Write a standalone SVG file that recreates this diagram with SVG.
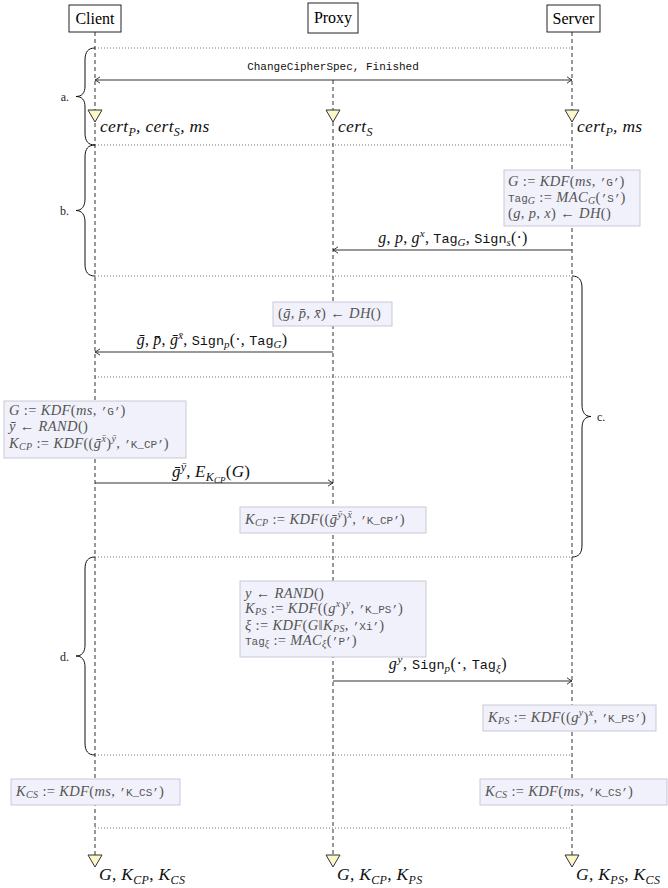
<svg xmlns="http://www.w3.org/2000/svg" width="668" height="888" viewBox="0 0 668 888">
<defs>
<marker id="ah" viewBox="-6 -4 7 8" markerWidth="7" markerHeight="8" refX="0" refY="0" orient="auto-start-reverse" markerUnits="userSpaceOnUse">
<path d="M-5,-3.2 Q-1.5,-0.6 0,0 Q-1.5,0.6 -5,3.2" fill="none" stroke="#222" stroke-width="0.9"/>
</marker>
</defs>
<style>
.hdbox{fill:#fff;stroke:#222;stroke-width:1}
.hd{font-family:"Liberation Serif",serif;font-size:16px;text-anchor:middle;fill:#000}
.life{stroke:#333;stroke-width:1;stroke-dasharray:4 3;fill:none}
.sep{stroke:#666;stroke-width:0.9;stroke-dasharray:1 2;fill:none}
.msg{stroke:#333;stroke-width:1.1;fill:none}
.brace{stroke:#111;stroke-width:1;fill:none}
.tri{fill:#fdf6c9;stroke:#333;stroke-width:1}
.box{fill:#f1f1fb;stroke:#c9c9d6;stroke-width:1}
.m{font-family:"Liberation Serif",serif;font-style:italic}
.u{font-style:normal}
.tt{font-family:"Liberation Mono",monospace;font-style:normal}
.bx{font-size:14.5px;fill:#555;letter-spacing:0.35px}
.bx .tt{font-size:11px;letter-spacing:0}
.bx .s{font-size:10px}
.lb{font-size:16px;fill:#111;letter-spacing:0.2px}
.lb .tt{font-size:13.5px;letter-spacing:0}
.lb .s{font-size:11px}
.big{font-size:17px}
.big .s{font-size:12px}
.big .ss{font-size:9px}
.st{font-size:17.5px;fill:#111;letter-spacing:0.3px}
.st .s{font-size:12px}
.s{font-size:10px}
.ss{font-size:8px}
.lab{font-family:"Liberation Serif",serif;font-size:12px;fill:#222}
.cc{font-family:"Liberation Mono",monospace;font-size:11px;text-anchor:middle;fill:#111}
</style>
<rect width="668" height="888" fill="#fff"/>

<g id="lifelines">
<line class="life" x1="95" y1="32" x2="95" y2="855"/>
<line class="life" x1="333" y1="80" x2="333" y2="855"/>
<line class="life" x1="572" y1="32" x2="572" y2="855"/>
</g>

<g id="separators">
<line class="sep" x1="95" y1="48" x2="572" y2="48"/>
<line class="sep" x1="95" y1="145" x2="572" y2="145"/>
<line class="sep" x1="95" y1="276" x2="572" y2="276"/>
<line class="sep" x1="95" y1="377" x2="572" y2="377"/>
<line class="sep" x1="95" y1="557" x2="572" y2="557"/>
<line class="sep" x1="95" y1="755" x2="572" y2="755"/>
<line class="sep" x1="95" y1="828" x2="572" y2="828"/>
</g>

<g id="client"><rect class="hdbox" x="69" y="5" width="52" height="27"/><text class="hd" x="95" y="24">Client</text></g>
<g id="proxy"><rect class="hdbox" x="308" y="3" width="50" height="30"/><text class="hd" x="333" y="23">Proxy</text></g>
<g id="server"><rect class="hdbox" x="547" y="5" width="53" height="27"/><text class="hd" x="573.5" y="24">Server</text></g>

<g id="braces">
<path class="brace" d="M95,48 C88,48 85,52 85,60 L85,86 C85,93 82,96.5 76,96.5 C82,96.5 85,100 85,107 L85,133 C85,141 88,145 95,145"/>
<text class="lab" x="69" y="101" text-anchor="end">a.</text>
<path class="brace" d="M95,145 C88,145 85,149 85,157 L85,199 C85,206 82,210.5 76,210.5 C82,210.5 85,215 85,222 L85,264 C85,272 88,276 95,276"/>
<text class="lab" x="69" y="215" text-anchor="end">b.</text>
<path class="brace" d="M572,276 C579,276 582,280 582,288 L582,405 C582,412 585,416.5 591,416.5 C585,416.5 582,421 582,428 L582,545 C582,553 579,557 572,557"/>
<text class="lab" x="597" y="421">c.</text>
<path class="brace" d="M95,557 C88,557 85,561 85,569 L85,645 C85,652 82,656 76,656 C82,656 85,660 85,667 L85,743 C85,751 88,755 95,755"/>
<text class="lab" x="69" y="661" text-anchor="end">d.</text>
</g>

<g id="connectors">
<line class="msg" x1="95" y1="80" x2="572" y2="80" marker-start="url(#ah)" marker-end="url(#ah)"/>
<line class="msg" x1="572" y1="250" x2="333" y2="250" marker-end="url(#ah)"/>
<line class="msg" x1="333" y1="352" x2="95" y2="352" marker-end="url(#ah)"/>
<line class="msg" x1="95" y1="483" x2="333" y2="483" marker-end="url(#ah)"/>
<line class="msg" x1="333" y1="681" x2="572" y2="681" marker-end="url(#ah)"/>
<text class="cc" x="333" y="70">ChangeCipherSpec, Finished</text>
<text class="m lb" x="453" y="243" text-anchor="middle">g<tspan class="u">, </tspan>p<tspan class="u">, </tspan>g<tspan class="s" dy="-6">x</tspan><tspan class="u" dy="6">, </tspan><tspan class="tt">Tag</tspan><tspan class="s" dy="3">G</tspan><tspan class="u" dy="-3">, </tspan><tspan class="tt">Sign</tspan><tspan class="s" dy="3">s</tspan><tspan class="u" dy="-3">(·)</tspan></text>
<text class="m lb" x="212" y="345" text-anchor="middle">ḡ<tspan class="u">, </tspan>p̄<tspan class="u">, </tspan>ḡ<tspan class="s" dy="-6">x̄</tspan><tspan class="u" dy="6">, </tspan><tspan class="tt">Sign</tspan><tspan class="s" dy="3">p</tspan><tspan class="u" dy="-3">(·, </tspan><tspan class="tt">Tag</tspan><tspan class="s" dy="3">G</tspan><tspan class="u" dy="-3">)</tspan></text>
<text class="m lb big" x="211" y="477" text-anchor="middle">ḡ<tspan class="s" dy="-6">ȳ</tspan><tspan class="u" dy="6">, </tspan>E<tspan class="s" dy="4">K</tspan><tspan class="ss" dy="2">CP</tspan><tspan class="u" dy="-6">(</tspan>G<tspan class="u">)</tspan></text>
<text class="m lb" x="448" y="669" text-anchor="middle" style="letter-spacing:0.6px">g<tspan class="s" dy="-6">y</tspan><tspan class="u" dy="6">, </tspan><tspan class="tt">Sign</tspan><tspan class="s" dy="3">p</tspan><tspan class="u" dy="-3">(·, </tspan><tspan class="tt">Tag</tspan><tspan class="s" dy="3">ξ</tspan><tspan class="u" dy="-3">)</tspan></text>
</g>

<g id="state-a">
<polygon class="tri" points="88,110 102,110 95,122"/>
<polygon class="tri" points="326,110 340,110 333,122"/>
<polygon class="tri" points="565,110 579,110 572,122"/>
<text class="m st" x="100" y="132">cert<tspan class="s" dy="3.5">P</tspan><tspan dy="-3.5">, cert</tspan><tspan class="s" dy="3.5">S</tspan><tspan dy="-3.5">, ms</tspan></text>
<text class="m st" x="338" y="132">cert<tspan class="s" dy="3.5">S</tspan></text>
<text class="m st" x="577" y="132">cert<tspan class="s" dy="3.5">P</tspan><tspan dy="-3.5">, ms</tspan></text>
</g>

<g id="box-server-b">
<rect class="box" x="504" y="170" width="136" height="56"/>
<text class="m bx" x="508" y="186">G<tspan class="u"> := </tspan>KDF<tspan class="u">(</tspan>ms<tspan class="u">, </tspan><tspan class="tt">’G’</tspan><tspan class="u">)</tspan></text>
<text class="m bx" x="508" y="202"><tspan class="tt">Tag</tspan><tspan class="s" dy="2">G</tspan><tspan class="u" dy="-2"> := </tspan>MAC<tspan class="s" dy="2">G</tspan><tspan class="u" dy="-2">(</tspan><tspan class="tt">’S’</tspan><tspan class="u">)</tspan></text>
<text class="m bx" x="508" y="218"><tspan class="u">(</tspan>g<tspan class="u">, </tspan>p<tspan class="u">, </tspan>x<tspan class="u">) ← </tspan>DH<tspan class="u">()</tspan></text>
</g>

<g id="box-proxy-dh">
<rect class="box" x="273" y="302" width="119" height="24"/>
<text class="m bx" x="278" y="318"><tspan class="u">(</tspan>ḡ<tspan class="u">, </tspan>p̄<tspan class="u">, </tspan>x̄<tspan class="u">) ← </tspan>DH<tspan class="u">()</tspan></text>
</g>

<g id="box-client-c">
<rect class="box" x="4" y="401" width="182" height="57"/>
<text class="m bx" x="9" y="415">G<tspan class="u"> := </tspan>KDF<tspan class="u">(</tspan>ms<tspan class="u">, </tspan><tspan class="tt">’G’</tspan><tspan class="u">)</tspan></text>
<text class="m bx" x="9" y="431">ȳ<tspan class="u"> ← </tspan>RAND<tspan class="u">()</tspan></text>
<text class="m bx" x="9" y="448">K<tspan class="s" dy="2">CP</tspan><tspan class="u" dy="-2"> := </tspan>KDF<tspan class="u">((</tspan>ḡ<tspan class="s" dy="-6">x̄</tspan><tspan class="u" dy="6">)</tspan><tspan class="s" dy="-6">ȳ</tspan><tspan class="u" dy="6">, </tspan><tspan class="tt">’K_CP’</tspan><tspan class="u">)</tspan></text>
</g>

<g id="box-proxy-kcp">
<rect class="box" x="240" y="507" width="186" height="26"/>
<text class="m bx" x="245" y="524">K<tspan class="s" dy="2">CP</tspan><tspan class="u" dy="-2"> := </tspan>KDF<tspan class="u">((</tspan>ḡ<tspan class="s" dy="-6">ȳ</tspan><tspan class="u" dy="6">)</tspan><tspan class="s" dy="-6">x̄</tspan><tspan class="u" dy="6">, </tspan><tspan class="tt">’K_CP’</tspan><tspan class="u">)</tspan></text>
</g>

<g id="box-proxy-d">
<rect class="box" x="240" y="581" width="186" height="76"/>
<text class="m bx" x="245" y="597.5">y<tspan class="u"> ← </tspan>RAND<tspan class="u">()</tspan></text>
<text class="m bx" x="245" y="613">K<tspan class="s" dy="2">PS</tspan><tspan class="u" dy="-2"> := </tspan>KDF<tspan class="u">((</tspan>g<tspan class="s" dy="-6">x</tspan><tspan class="u" dy="6">)</tspan><tspan class="s" dy="-6">y</tspan><tspan class="u" dy="6">, </tspan><tspan class="tt">’K_PS’</tspan><tspan class="u">)</tspan></text>
<text class="m bx" x="245" y="629.5">ξ<tspan class="u"> := </tspan>KDF<tspan class="u">(</tspan>G<tspan class="u">‖</tspan>K<tspan class="s" dy="2">PS</tspan><tspan class="u" dy="-2">, </tspan><tspan class="tt">’Xi’</tspan><tspan class="u">)</tspan></text>
<text class="m bx" x="245" y="645"><tspan class="tt">Tag</tspan><tspan class="s" dy="2">ξ</tspan><tspan class="u" dy="-2"> := </tspan>MAC<tspan class="s" dy="2">ξ</tspan><tspan class="u" dy="-2">(</tspan><tspan class="tt">’P’</tspan><tspan class="u">)</tspan></text>
</g>

<g id="box-server-kps">
<rect class="box" x="483" y="705" width="173" height="26"/>
<text class="m bx" x="488" y="722">K<tspan class="s" dy="2">PS</tspan><tspan class="u" dy="-2"> := </tspan>KDF<tspan class="u">((</tspan>g<tspan class="s" dy="-6">y</tspan><tspan class="u" dy="6">)</tspan><tspan class="s" dy="-6">x</tspan><tspan class="u" dy="6">, </tspan><tspan class="tt">’K_PS’</tspan><tspan class="u">)</tspan></text>
</g>

<g id="box-client-kcs">
<rect class="box" x="11" y="779" width="169" height="26"/>
<text class="m bx" x="16" y="796">K<tspan class="s" dy="2">CS</tspan><tspan class="u" dy="-2"> := </tspan>KDF<tspan class="u">(</tspan>ms<tspan class="u">, </tspan><tspan class="tt">’K_CS’</tspan><tspan class="u">)</tspan></text>
</g>

<g id="box-server-kcs">
<rect class="box" x="480" y="779" width="187" height="26"/>
<text class="m bx" x="485" y="796">K<tspan class="s" dy="2">CS</tspan><tspan class="u" dy="-2"> := </tspan>KDF<tspan class="u">(</tspan>ms<tspan class="u">, </tspan><tspan class="tt">’K_CS’</tspan><tspan class="u">)</tspan></text>
</g>

<g id="state-final">
<polygon class="tri" points="88,855 102,855 95,867"/>
<polygon class="tri" points="326,855 340,855 333,867"/>
<polygon class="tri" points="565,855 579,855 572,867"/>
<text class="m st" x="99" y="880">G<tspan class="u">, </tspan>K<tspan class="s" dy="3.5">CP</tspan><tspan class="u" dy="-3.5">, </tspan>K<tspan class="s" dy="3.5">CS</tspan></text>
<text class="m st" x="337" y="880">G<tspan class="u">, </tspan>K<tspan class="s" dy="3.5">CP</tspan><tspan class="u" dy="-3.5">, </tspan>K<tspan class="s" dy="3.5">PS</tspan></text>
<text class="m st" x="576" y="880">G<tspan class="u">, </tspan>K<tspan class="s" dy="3.5">PS</tspan><tspan class="u" dy="-3.5">, </tspan>K<tspan class="s" dy="3.5">CS</tspan></text>
</g>
</svg>
